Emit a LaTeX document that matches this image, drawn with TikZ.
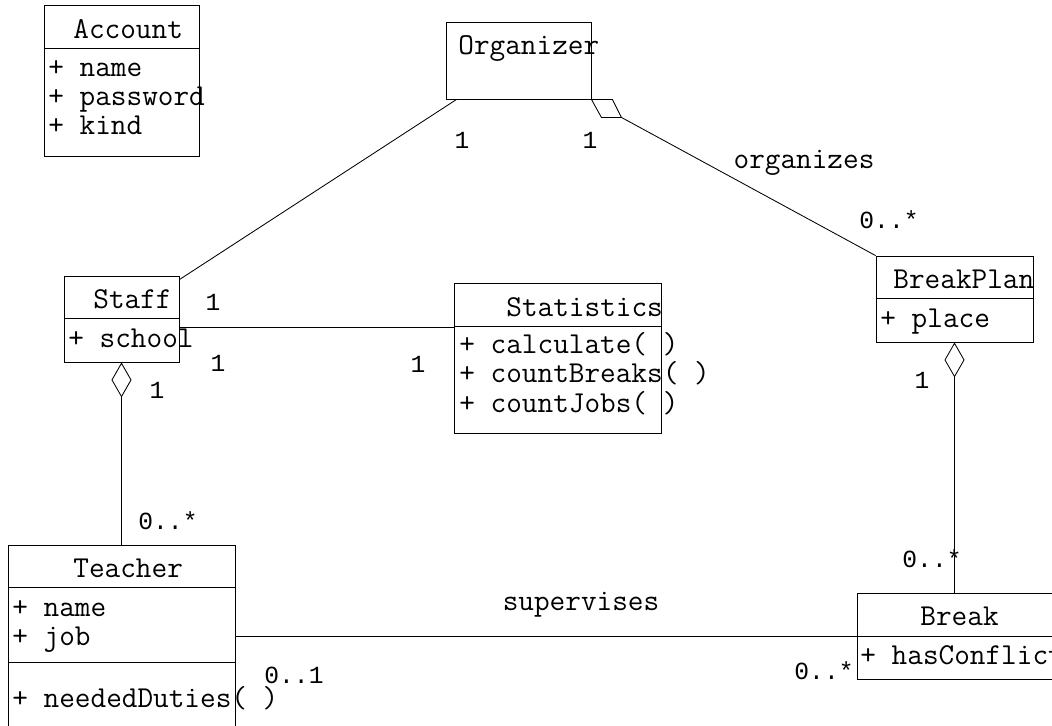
\documentclass[tikz,border=0pt]{standalone}
\usepackage{fontspec}
\usetikzlibrary{arrows.meta, positioning, calc}
\newfontfamily\multfont{Liberation Mono}
\newcommand\clsfont{\ttfamily\fontsize{21.6}{26}\selectfont}
\newcommand\labfont{\multfont\fontsize{17.5}{21}\selectfont}

\begin{document}
\begin{tikzpicture}[
    x=0.025cm, y=-0.025cm,
    line width=0.6pt,
    cls/.style 2 args={draw, inner sep=0pt, minimum width=#1*0.025cm, minimum height=#2*0.025cm},
    txt/.style={anchor=base west, inner sep=0pt, font=\clsfont},
    role/.style={anchor=base, inner sep=0pt, font=\clsfont},
    mult/.style={anchor=base, inner sep=0pt, font=\labfont},
    agg/.style={{Diamond[open, length=0.875cm, width=0.5cm]}-}
]
    \useasboundingbox (0,0) rectangle (1052,725);
    \clip (0,0) rectangle (1052,725);

    % class boxes
    \node[cls={155}{151}] (account) at (121.5,80.5) {};
    \node[cls={145}{77}] (organizer) at (518.5,60.5) {};
    \node[cls={115}{86}] (staff) at (121.5,319) {};
    \node[cls={207}{150}] (statistics) at (557.5,358) {};
    \node[cls={157}{86}] (breakplan) at (954.5,299) {};
    \node[cls={227}{200}] (teacher) at (121.5,645) {};
    \node[cls={198}{86}] (break) at (956,636) {};

    % compartment lines
    \draw (account.west |- 0,48) -- (account.east |- 0,48);
    \draw (staff.west |- 0,318) -- (staff.east |- 0,318);
    \draw (statistics.west |- 0,326) -- (statistics.east |- 0,326);
    \draw (breakplan.west |- 0,298) -- (breakplan.east |- 0,298);
    \draw (teacher.west |- 0,587) -- (teacher.east |- 0,587);
    \draw (teacher.west |- 0,662) -- (teacher.east |- 0,662);
    \draw (break.west |- 0,636) -- (break.east |- 0,636);

    % class texts
    \node[txt] (accname) at (73,38) {Account};
    \foreach \t [count=\i] in {name, password, kind}
        \node[txt] (acc\i) at (48,{76+29*(\i-1)}) {+ \t};
    \node[txt] (orgname) at (458,54) {Organizer};
    \node[txt] (staffname) at (93,308) {Staff};
    \node[txt] (staff1) at (68,347) {+ school};
    \node[txt] (statname) at (506,316) {Statistics};
    \foreach \t [count=\i] in {calculate( ), countBreaks( ), countJobs( )}
        \node[txt] (stat\i) at (459,{353+29.5*(\i-1)}) {+ \t};
    \node[txt] (planname) at (893,288) {BreakPlan};
    \node[txt] (plan1) at (880,327) {+ place};
    \node[txt] (teachname) at (73,577) {Teacher};
    \node[txt] (teach1) at (12,616) {+ name};
    \node[txt] (teach2) at (12,645) {+ job};
    \node[txt] (teach3) at (12,707) {+ neededDuties( )};
    \node[txt] (breakname) at (920,625) {Break};
    \node[txt] (break1) at (860,664) {+ hasConflict};

    % associations
    \draw ($(staff.north east)+(0,4)$) -- ($(organizer.south west)+(11,0)$);
    \draw[fill=white] (organizer.south east) -- ++(21,0) -- ++(9,18) coordinate (aggtip) -- ++(-20,0) -- cycle;
    \draw (aggtip) -- (breakplan.north west);
    \draw ($(staff.east)+(0,8)$) coordinate (s1) -- (statistics.west |- s1);
    \draw[agg] (staff.south) -- (teacher.north);
    \draw[agg] (breakplan.south) -- (breakplan.south |- break.north);
    \draw (teacher.east |- break.west) -- (break.west);

    % multiplicities and roles
    \node[mult] (m1) at (462,148) {1};
    \node[mult] (m2) at (590,148) {1};
    \node[role] (organizes) at (804,168) {organizes};
    \node[mult] (m3) at (889,228) {0..*};
    \node[mult] (m4) at (213,310) {1};
    \node[mult] (m5) at (218,371) {1};
    \node[mult] (m6) at (418,372) {1};
    \node[mult] (m7) at (157,398) {1};
    \node[mult] (m8) at (922,388) {1};
    \node[mult] (m9) at (168,529) {0..*};
    \node[mult] (m10) at (932,567) {0..*};
    \node[role] (supervises) at (581,610) {supervises};
    \node[mult] (m11) at (294,683) {0..1};
    \node[mult] (m12) at (824,679) {0..*};
\end{tikzpicture}
\end{document}
